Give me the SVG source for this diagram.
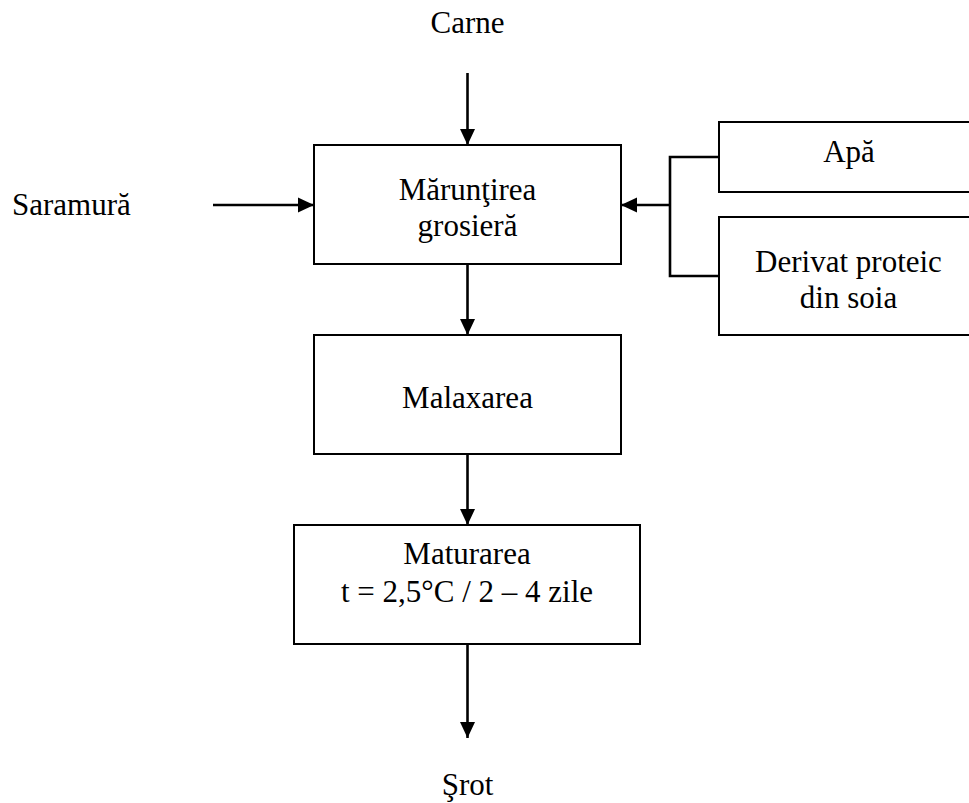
<svg xmlns="http://www.w3.org/2000/svg" width="969" height="803" viewBox="0 0 969 803">
<defs>
<style>
.box{fill:#fff;stroke:#000;stroke-width:2}
.t{font-family:"Liberation Serif","Times New Roman",serif;font-size:31px;fill:#000;text-anchor:middle}
.tl{font-family:"Liberation Serif","Times New Roman",serif;font-size:31px;fill:#000}
.c{fill:none;stroke:#000;stroke-width:2.6}
.ca{fill:none;stroke:#000;stroke-width:2.6;marker-end:url(#ah)}
</style>
<marker id="ah" viewBox="0 0 16 16" markerWidth="16" markerHeight="16" refX="16" refY="8" orient="auto" markerUnits="userSpaceOnUse">
<path d="M0,0.5 L16,8 L0,15.5 z" fill="#000"/>
</marker>
</defs>
<rect width="969" height="803" fill="#fff"/>
<g id="connectors">
<line class="ca" x1="467.5" y1="73" x2="467.5" y2="145"/>
<line class="ca" x1="213" y1="205" x2="314" y2="205"/>
<polyline class="c" points="719,157 670,157 670,276 719,276"/>
<line class="ca" x1="670" y1="205" x2="621" y2="205"/>
<line class="ca" x1="467.5" y1="264" x2="467.5" y2="335"/>
<line class="ca" x1="467.5" y1="454" x2="467.5" y2="525"/>
<line class="ca" x1="467.5" y1="644" x2="467.5" y2="738"/>
</g>
<g id="carne"><text class="t" x="467.5" y="33">Carne</text></g>
<g id="saramura"><text class="tl" x="12" y="215">Saramură</text></g>
<g id="maruntirea">
<rect class="box" x="314" y="145" width="307" height="119"/>
<text class="t" x="467.5" y="200">Mărunţirea</text>
<text class="t" x="467.5" y="236">grosieră</text>
</g>
<g id="apa">
<rect class="box" x="719" y="122" width="262" height="70"/>
<text class="t" x="849" y="162">Apă</text>
</g>
<g id="derivat">
<rect class="box" x="719" y="217" width="262" height="118"/>
<text class="t" x="848.5" y="272">Derivat proteic</text>
<text class="t" x="848.5" y="308">din soia</text>
</g>
<g id="malaxarea">
<rect class="box" x="314" y="335" width="307" height="119"/>
<text class="t" x="467.5" y="408">Malaxarea</text>
</g>
<g id="maturarea">
<rect class="box" x="294" y="525" width="346" height="119"/>
<text class="t" x="467" y="564">Maturarea</text>
<text class="t" x="467" y="602">t = 2,5°C / 2 – 4 zile</text>
</g>
<g id="srot"><text class="t" x="467.5" y="795">Şrot</text></g>
</svg>
